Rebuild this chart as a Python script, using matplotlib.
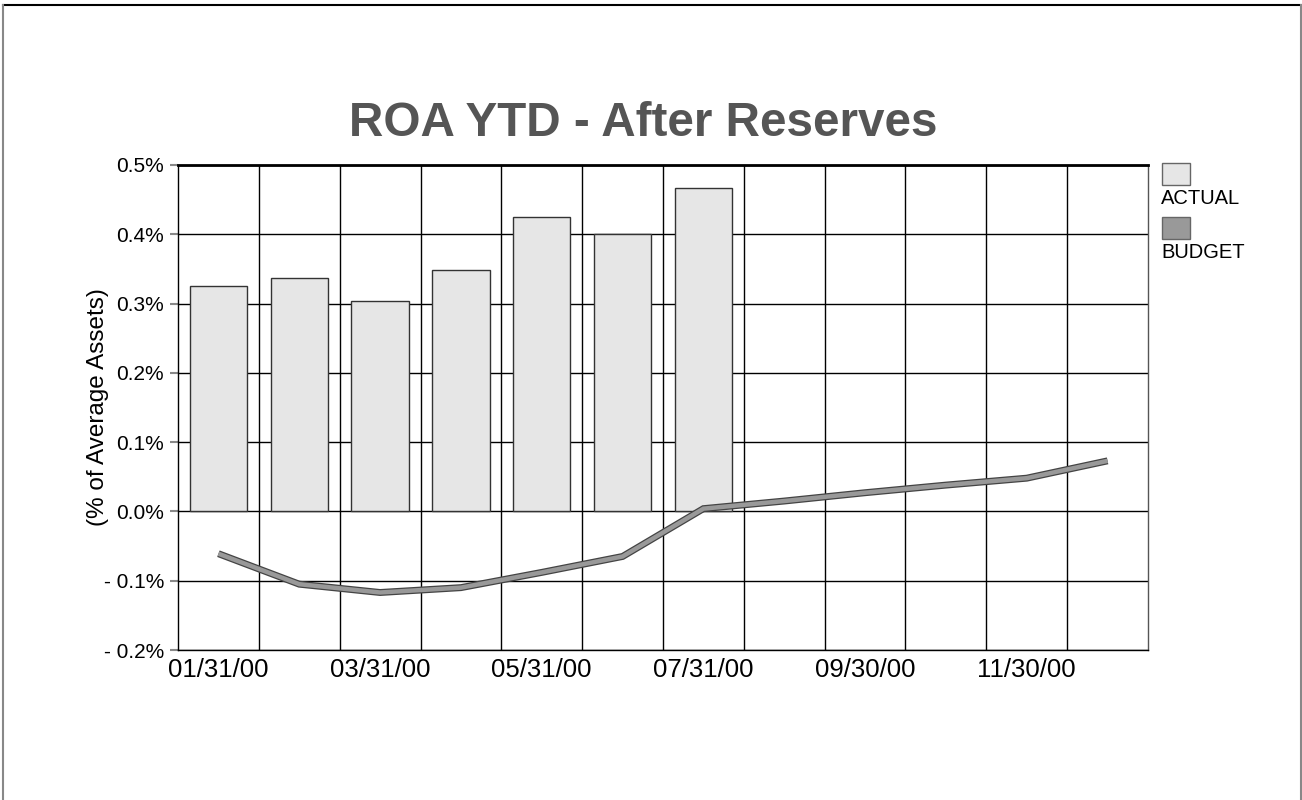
import numpy as np
import matplotlib
matplotlib.use('Agg')
import matplotlib.pyplot as plt
from matplotlib.lines import Line2D
from matplotlib.patches import Rectangle

# datos
meses = ['01/31/00', '02/29/00', '03/31/00', '04/30/00', '05/31/00', '06/30/00',
         '07/31/00', '08/31/00', '09/30/00', '10/31/00', '11/30/00', '12/31/00']
actual = [0.325, 0.337, 0.304, 0.348, 0.425, 0.400, 0.467]
budget = [-0.061, -0.105, -0.117, -0.110, -0.088, -0.065,
          0.004, 0.015, 0.027, 0.038, 0.048, 0.073]
y_ticks = [-0.2, -0.1, 0.0, 0.1, 0.2, 0.3, 0.4, 0.5]
y_labels = ['- 0.2%', '- 0.1%', '0.0%', '0.1%', '0.2%', '0.3%', '0.4%', '0.5%']

plt.rcParams['font.family'] = ['Liberation Sans', 'DejaVu Sans']

fig = plt.figure(figsize=(13.02, 8.0), dpi=100)
ax = fig.add_axes([178/1302, 1 - 650/800, (1148 - 178)/1302, (650 - 165)/800])

x = np.arange(len(meses))
ax.bar(x[:len(actual)], actual, width=0.71, color='#e6e6e6', edgecolor='#333333',
       linewidth=1.0, zorder=3)

# linea doble (borde oscuro + relleno gris)
xb = x[:len(budget)]
ax.plot(xb, budget, color='#444444', linewidth=5.0, solid_capstyle='butt',
        solid_joinstyle='miter', zorder=4)
ax.plot(xb, budget, color='#999999', linewidth=3.2, solid_capstyle='butt',
        solid_joinstyle='miter', zorder=5)

ax.set_xlim(-0.5, len(meses) - 0.5)
ax.set_ylim(-0.2, 0.5)
ax.set_yticks(y_ticks)
ax.set_yticklabels(y_labels, fontsize=15)
ax.set_xticks(x[::2])
ax.set_xticklabels(meses[::2], fontsize=18.5)
ax.set_xticks(np.arange(0.5, len(meses) - 0.5, 1), minor=True)
ax.tick_params(axis='x', which='both', length=0, pad=6)
ax.tick_params(axis='y', length=6, color='#888888', width=1.5, pad=4)

ax.grid(True, axis='y', which='major', color='black', linewidth=1.0, zorder=1)
ax.grid(True, axis='x', which='minor', color='black', linewidth=1.0, zorder=1)
ax.set_axisbelow(True)
for s in ['left', 'bottom', 'right']:
    ax.spines[s].set_linewidth(1.0)
ax.spines['top'].set_linewidth(2.0)
ax.spines['right'].set_color('#555555')

ax.set_ylabel('(% of Average Assets)', fontsize=17.5)
ax.yaxis.set_label_coords((109 - 178)/970, 0.5)

fig.text(643/1302, 1 - 123/800, 'ROA YTD - After Reserves', fontsize=34.3,
         fontweight='bold', color='#555555', ha='center', va='center')

# leyenda manual a la derecha
for y0, color, nombre in [(163, '#e6e6e6', 'ACTUAL'), (217, '#999999', 'BUDGET')]:
    fig.patches.append(Rectangle((1162/1302, 1 - (y0 + 22)/800), 28/1302, 22/800,
                                 facecolor=color, edgecolor='#666666', linewidth=1.0,
                                 transform=fig.transFigure, figure=fig))
    fig.text(1161/1302, 1 - (y0 + 36)/800, nombre, fontsize=14.5,
             ha='left', va='center')

# marco de la figura
fig.add_artist(Line2D([3/1302, 1], [1 - 5/800, 1 - 5/800], color='black',
                      linewidth=1.5, transform=fig.transFigure))
fig.add_artist(Line2D([3/1302, 3/1302], [0, 1 - 5/800], color='#888888',
                      linewidth=1.5, transform=fig.transFigure))
fig.add_artist(Line2D([1300.5/1302, 1300.5/1302], [0, 1 - 5/800], color='#888888',
                      linewidth=1.5, transform=fig.transFigure))

fig.savefig('out.png', dpi=100)
